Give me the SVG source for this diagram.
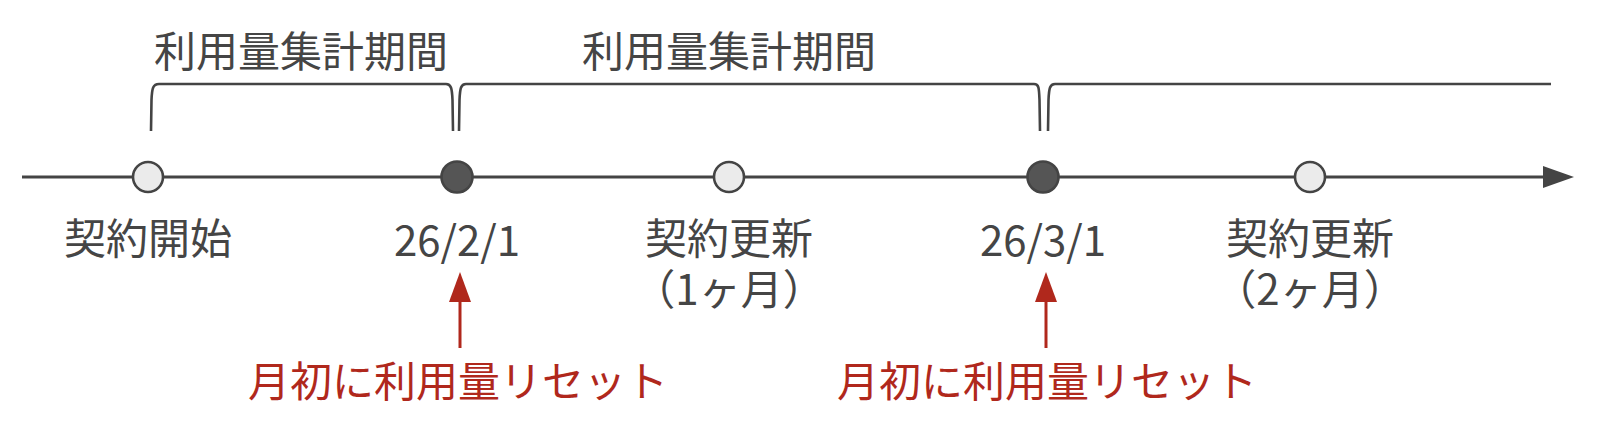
<svg xmlns="http://www.w3.org/2000/svg" width="1600" height="430" viewBox="0 0 1600 430">
<style>
.t{font-family:"Noto Sans CJK JP","Noto Sans",sans-serif;font-size:42px;fill:#454545;text-anchor:middle}
.r{font-family:"Noto Sans CJK JP","Noto Sans",sans-serif;font-size:42px;fill:#b0281c;text-anchor:middle}
.br{fill:none;stroke:#444;stroke-width:2.6}
.light{fill:#ebebeb;stroke:#444;stroke-width:2.6}
.dark{fill:#555;stroke:#444;stroke-width:2.6}
.ra{stroke:#b0281c;stroke-width:3;fill:none}
</style>
<rect width="1600" height="430" fill="#fff"/>
<g id="connectors">
<line x1="22" y1="177" x2="1546" y2="177" stroke="#444" stroke-width="3"/>
<polygon points="1543,166 1574,177 1543,188" fill="#444"/>
<line class="ra" x1="460" y1="300" x2="460" y2="348"/>
<polygon points="449,302 460,272 471,302" fill="#b0281c"/>
<line class="ra" x1="1046" y1="300" x2="1046" y2="348"/>
<polygon points="1035,302 1046,272 1057,302" fill="#b0281c"/>
</g>
<g id="brackets">
<path class="br" d="M151,131 L151.5,100 C152,88 153,84 159,84 L446,84 C451,84 452,88 452.5,100 L453,131"/>
<path class="br" d="M459,131 L459.5,100 C460,88 461,84 466,84 L1034,84 C1039,84 1039,88 1039.5,100 L1040,131"/>
<path class="br" d="M1048,131 L1048.5,100 C1049,88 1050,84 1055,84 L1551,84"/>
<text class="t" x="301" y="67">利用量集計期間</text>
<text class="t" x="729" y="67">利用量集計期間</text>
</g>
<g id="node-start">
<circle class="light" cx="148" cy="177" r="15"/>
<text class="t" x="148" y="254">契約開始</text>
</g>
<g id="node-feb">
<circle class="dark" cx="457" cy="177" r="15.5"/>
<text class="t" x="457" y="256">26/2/1</text>
</g>
<g id="node-renew1">
<circle class="light" cx="729" cy="177" r="15"/>
<text class="t"><tspan x="729" y="254">契約更新</tspan><tspan x="729" y="305">（1ヶ月）</tspan></text>
</g>
<g id="node-mar">
<circle class="dark" cx="1043" cy="177" r="15.5"/>
<text class="t" x="1043" y="256">26/3/1</text>
</g>
<g id="node-renew2">
<circle class="light" cx="1310" cy="177" r="15"/>
<text class="t"><tspan x="1310" y="254">契約更新</tspan><tspan x="1310" y="305">（2ヶ月）</tspan></text>
</g>
<g id="reset1">
<text class="r" x="458" y="397">月初に利用量リセット</text>
</g>
<g id="reset2">
<text class="r" x="1047" y="397">月初に利用量リセット</text>
</g>
</svg>
